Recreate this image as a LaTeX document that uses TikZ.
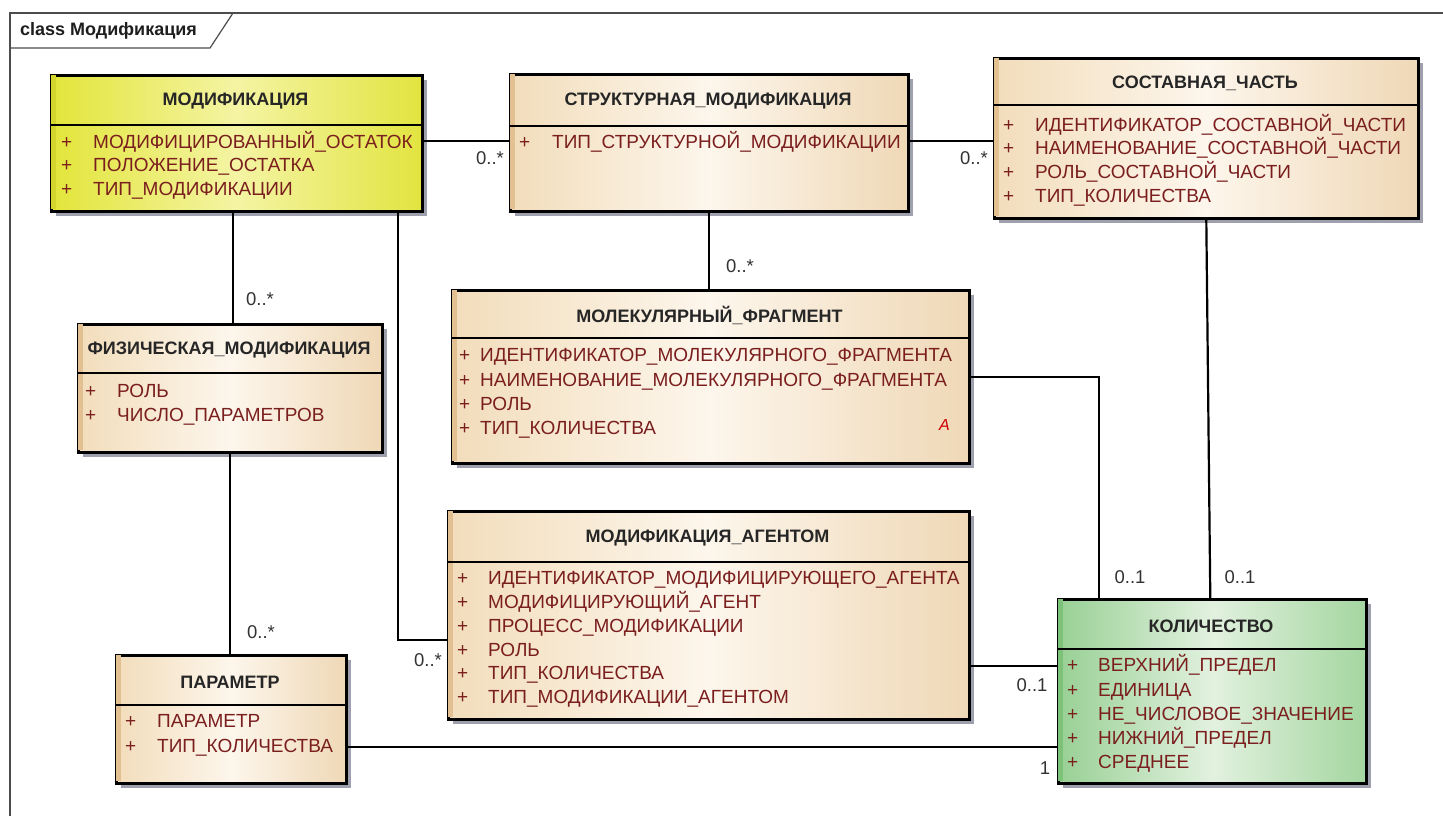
\documentclass[tikz,border=0pt]{standalone}
\usepackage{fontspec}
\setmainfont{Liberation Sans}
\usetikzlibrary{shadows}
\definecolor{attrred}{HTML}{7A1E1E}
\definecolor{hdrtxt}{HTML}{262626}
\definecolor{creamL}{HTML}{F2DDBB}
\definecolor{creamM}{HTML}{FDF6EC}
\definecolor{creamR}{HTML}{EFD8B6}
\definecolor{creamS}{HTML}{E2C092}
\definecolor{yelL}{HTML}{E3E53A}
\definecolor{yelM}{HTML}{F4F4A4}
\definecolor{yelR}{HTML}{E2E440}
\definecolor{yelS}{HTML}{D4D62E}
\definecolor{grnL}{HTML}{98D094}
\definecolor{grnM}{HTML}{E2F1DF}
\definecolor{grnR}{HTML}{A4D6A0}
\definecolor{grnS}{HTML}{7CC278}
\definecolor{shad}{HTML}{9EA0AE}
\definecolor{multtxt}{HTML}{333333}
\definecolor{frametxt}{HTML}{1E1E1E}
\begin{document}
\begin{tikzpicture}[x=1pt,y=-1pt,
  clsbox/.style={draw=black, line width=2.6pt, anchor=north west, inner sep=0pt,
    drop shadow={shadow xshift=5pt, shadow yshift=-5pt, fill=shad, opacity=1}},
  cream/.style={clsbox, left color=creamL, right color=creamR, middle color=creamM},
  yellowbox/.style={clsbox, left color=yelL, right color=yelR, middle color=yelM},
  greenbox/.style={clsbox, left color=grnL, right color=grnR, middle color=grnM},
  divider/.style={line width=2.6pt, black},
  hdr/.style={font=\fontsize{18}{19}\selectfont\bfseries, text=hdrtxt, inner sep=0pt},
  attr/.style={font=\fontsize{19}{20}\selectfont, text=attrred, inner sep=0pt, anchor=west,
    text height=13.6pt, text depth=0pt},
  conn/.style={line width=2.2pt, black},
  mult/.style={font=\fontsize{18.5}{19}\selectfont, text=multtxt, inner sep=0pt},
]
\useasboundingbox (0,0) rectangle (1443,815);
\fill[white] (0,0) rectangle (1443,815);

% frame
\draw[line width=1.2pt, black!70] (10,830) -- (10,13) -- (1460,13);
\draw[line width=1.2pt, black!70] (10,48) -- (210,48) -- (233,13);
\node[font=\fontsize{18}{19}\selectfont\bfseries, text=frametxt, anchor=west, inner sep=0pt] (title) at (20,31) {class Модификация};

% ---- class boxes ----
\node[yellowbox, minimum width=371pt, minimum height=136pt] (mod) at (50,74) {};
\node[cream, minimum width=398pt, minimum height=137pt] (struct) at (509,73) {};
\node[cream, minimum width=424pt, minimum height=160pt] (sost) at (993,57) {};
\node[cream, minimum width=304pt, minimum height=128pt] (fiz) at (77,323) {};
\node[cream, minimum width=517pt, minimum height=173pt] (mol) at (451,289) {};
\node[cream, minimum width=521pt, minimum height=208pt] (agent) at (447,510) {};
\node[cream, minimum width=230pt, minimum height=128pt] (param) at (115,654) {};
\node[greenbox, minimum width=308pt, minimum height=184pt] (kol) at (1057,598) {};

% left strips
\fill[yelS] (51.3,75.3) rectangle (56,208.7);
\fill[creamS] (510.3,74.3) rectangle (515,208.7);
\fill[creamS] (994.3,58.3) rectangle (999,215.7);
\fill[creamS] (78.3,324.3) rectangle (83,449.7);
\fill[creamS] (452.3,290.3) rectangle (457,460.7);
\fill[creamS] (448.3,511.3) rectangle (453,716.7);
\fill[creamS] (116.3,655.3) rectangle (121,780.7);
\fill[grnS] (1058.3,599.3) rectangle (1063,780.7);

% dividers
\draw[divider] (50,125) -- (421,125);
\draw[divider] (509,126) -- (907,126);
\draw[divider] (993,105) -- (1417,105);
\draw[divider] (77,373) -- (381,373);
\draw[divider] (451,338) -- (968,338);
\draw[divider] (447,562) -- (968,562);
\draw[divider] (115,705) -- (345,705);
\draw[divider] (1057,649) -- (1365,649);

% headers
\node[hdr] (modh) at (235.5,101) {МОДИФИКАЦИЯ};
\node[hdr] (structh) at (708,101) {СТРУКТУРНАЯ\_МОДИФИКАЦИЯ};
\node[hdr] (sosth) at (1205,83) {СОСТАВНАЯ\_ЧАСТЬ};
\node[hdr] (fizh) at (229,350) {ФИЗИЧЕСКАЯ\_МОДИФИКАЦИЯ};
\node[hdr] (molh) at (709.5,315) {МОЛЕКУЛЯРНЫЙ\_ФРАГМЕНТ};
\node[hdr] (agenth) at (707.5,538) {МОДИФИКАЦИЯ\_АГЕНТОМ};
\node[hdr] (paramh) at (230,682) {ПАРАМЕТР};
\node[hdr] (kolh) at (1211,626) {КОЛИЧЕСТВО};

% attributes: МОДИФИКАЦИЯ
\foreach \yy/\tt in {142/МОДИФИЦИРОВАННЫЙ\_ОСТАТОК,165/ПОЛОЖЕНИЕ\_ОСТАТКА,189/ТИП\_МОДИФИКАЦИИ}{
  \node[attr] at (61,\yy) {+};
  \node[attr] at (93,\yy) {\tt};
}
% СТРУКТУРНАЯ
\node[attr] at (519,142) {+};
\node[attr] at (552,142) {ТИП\_СТРУКТУРНОЙ\_МОДИФИКАЦИИ};
% СОСТАВНАЯ
\foreach \yy/\tt in {125/ИДЕНТИФИКАТОР\_СОСТАВНОЙ\_ЧАСТИ,148/НАИМЕНОВАНИЕ\_СОСТАВНОЙ\_ЧАСТИ,172/РОЛЬ\_СОСТАВНОЙ\_ЧАСТИ,196/ТИП\_КОЛИЧЕСТВА}{
  \node[attr] at (1003,\yy) {+};
  \node[attr] at (1035,\yy) {\tt};
}
% ФИЗИЧЕСКАЯ
\foreach \yy/\tt in {391/РОЛЬ,415/ЧИСЛО\_ПАРАМЕТРОВ}{
  \node[attr] at (85,\yy) {+};
  \node[attr] at (117,\yy) {\tt};
}
% МОЛЕКУЛЯРНЫЙ
\foreach \yy/\tt in {355/ИДЕНТИФИКАТОР\_МОЛЕКУЛЯРНОГО\_ФРАГМЕНТА,380/НАИМЕНОВАНИЕ\_МОЛЕКУЛЯРНОГО\_ФРАГМЕНТА,404/РОЛЬ,428/ТИП\_КОЛИЧЕСТВА}{
  \node[attr] at (459,\yy) {+};
  \node[attr] at (480,\yy) {\tt};
}
\node[attr, text=red!80!black, font=\fontsize{16}{17}\selectfont\itshape] (molA) at (939,424) {A};
% АГЕНТОМ
\foreach \yy/\tt in {578/ИДЕНТИФИКАТОР\_МОДИФИЦИРУЮЩЕГО\_АГЕНТА,602/МОДИФИЦИРУЮЩИЙ\_АГЕНТ,626/ПРОЦЕСС\_МОДИФИКАЦИИ,650/РОЛЬ,673/ТИП\_КОЛИЧЕСТВА,697/ТИП\_МОДИФИКАЦИИ\_АГЕНТОМ}{
  \node[attr] at (457,\yy) {+};
  \node[attr] at (488,\yy) {\tt};
}
% ПАРАМЕТР
\foreach \yy/\tt in {721/ПАРАМЕТР,746/ТИП\_КОЛИЧЕСТВА}{
  \node[attr] at (125,\yy) {+};
  \node[attr] at (157,\yy) {\tt};
}
% КОЛИЧЕСТВО
\foreach \yy/\tt in {665/ВЕРХНИЙ\_ПРЕДЕЛ,690/ЕДИНИЦА,714/НЕ\_ЧИСЛОВОЕ\_ЗНАЧЕНИЕ,738/НИЖНИЙ\_ПРЕДЕЛ,762/СРЕДНЕЕ}{
  \node[attr] at (1067,\yy) {+};
  \node[attr] at (1098,\yy) {\tt};
}

% ---- connectors ----
\coordinate (mA) at (398,640);
\draw[conn] ([yshift=2pt]mod.east) -- ([yshift=2pt]mod.east -| struct.west);
\draw[conn] ([yshift=1.5pt]struct.east) -- ([yshift=1.5pt]struct.east -| sost.west);
\draw[conn] (struct.south) -- (struct.south |- mol.north);
\draw[conn] ([xshift=3pt]fiz.north) -- ([xshift=3pt]fiz.north |- mod.south);
\draw[conn] (fiz.south) -- (fiz.south |- param.north);
\draw[conn] (mA |- mod.south) -- (mA) -- (mA -| agent.west);
\draw[conn] (mol.east) -| ([xshift=-113pt]kol.north);
\draw[conn] (sost.south) -- ([xshift=-2pt]kol.north);
\draw[conn] ([yshift=-51pt]agent.east) -- ([yshift=-51pt]agent.east -| kol.west);
\draw[conn] ([yshift=-28pt]param.east) -- ([yshift=-28pt]param.east -| kol.west);

% multiplicities
\node[mult] (m1) at (490,158) {0..*};
\node[mult] (m2) at (974,158) {0..*};
\node[mult] (m3) at (740,266) {0..*};
\node[mult] (m4) at (260,299) {0..*};
\node[mult] (m5) at (261,632) {0..*};
\node[mult] (m6) at (428,660) {0..*};
\node[mult] (m7) at (1130,577) {0..1};
\node[mult] (m8) at (1240,577) {0..1};
\node[mult] (m9) at (1032,685) {0..1};
\node[mult] (m10) at (1045,768) {1};
\end{tikzpicture}
\end{document}
